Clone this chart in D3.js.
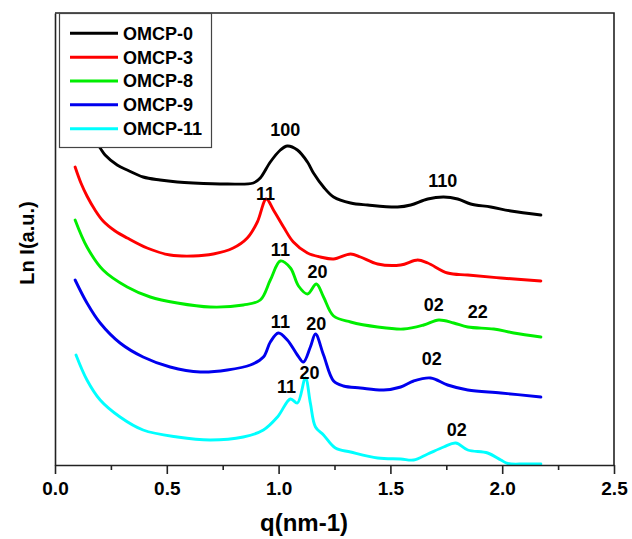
<!DOCTYPE html>
<html>
<head>
<meta charset="utf-8">
<script src="https://cdn.jsdelivr.net/npm/d3@7"></script>
<style>
  html, body { margin: 0; padding: 0; background: #fff; }
  svg { display: block; font-family: "Liberation Sans", Arial, Helvetica, sans-serif; }
</style>
</head>
<body>
<svg id="chart" width="632" height="539"></svg>
<script>
// ---- data (q in nm^-1, Ln I in arbitrary offset units) ----
const seriesNames = ["OMCP-0", "OMCP-3", "OMCP-8", "OMCP-9", "OMCP-11"];
const seriesColors = ["#000000", "#ff0000", "#00ee00", "#0000ee", "#00ffff"];

const omcp0 = [
  [0.090,7.14],[0.143,6.74],[0.202,6.34],[0.224,6.20],[0.278,6.00],[0.323,5.90],[0.394,5.76],[0.470,5.70],
  [0.547,5.66],[0.618,5.64],[0.771,5.62],[0.887,5.64],[0.918,5.74],[0.963,6.06],[1.008,6.30],
  [1.039,6.38],[1.084,6.30],[1.129,6.06],[1.156,5.84],[1.201,5.56],[1.246,5.36],[1.322,5.24],
  [1.398,5.20],[1.532,5.16],[1.591,5.20],[1.667,5.32],[1.738,5.36],[1.801,5.32],[1.859,5.22],
  [1.949,5.16],[2.039,5.08],[2.173,5.00]
];
const omcp3 = [
  [0.090,5.96],[0.116,5.64],[0.143,5.38],[0.179,5.10],[0.215,4.88],[0.269,4.68],[0.323,4.54],[0.412,4.34],[0.515,4.20],[0.618,4.18],
  [0.708,4.22],[0.797,4.34],[0.860,4.54],[0.905,4.86],[0.945,5.32],[0.977,5.10],[1.022,4.76],
  [1.066,4.46],[1.129,4.24],[1.187,4.16],[1.246,4.12],[1.322,4.22],[1.366,4.16],[1.443,4.02],
  [1.546,4.00],[1.622,4.10],[1.667,4.04],[1.756,3.84],[1.846,3.80],[1.994,3.74],[2.173,3.68]
];
const omcp8 = [
  [0.090,4.90],[0.143,4.36],[0.215,3.90],[0.323,3.56],[0.426,3.36],[0.547,3.24],[0.694,3.16],
  [0.842,3.20],[0.918,3.30],[0.963,3.70],[1.008,4.08],[1.053,3.94],[1.089,3.58],[1.129,3.42],
  [1.169,3.62],[1.201,3.36],[1.246,2.98],[1.322,2.86],[1.443,2.76],[1.559,2.72],[1.649,2.80],
  [1.716,2.90],[1.783,2.84],[1.846,2.76],[1.962,2.72],[2.052,2.64],[2.173,2.56]
];
const omcp9 = [
  [0.090,3.70],[0.143,3.24],[0.202,2.84],[0.291,2.44],[0.394,2.16],[0.515,1.96],[0.650,1.86],
  [0.771,1.90],[0.874,2.00],[0.932,2.16],[0.963,2.46],[0.999,2.64],[1.039,2.50],[1.084,2.20],
  [1.111,2.06],[1.142,2.36],[1.165,2.62],[1.201,2.20],[1.246,1.68],[1.290,1.58],[1.366,1.54],
  [1.470,1.50],[1.546,1.56],[1.604,1.68],[1.680,1.74],[1.756,1.60],[1.846,1.50],[1.994,1.44],
  [2.173,1.36]
];
const omcp11 = [
  [0.094,2.20],[0.143,1.70],[0.202,1.30],[0.291,0.96],[0.394,0.70],[0.547,0.56],[0.694,0.50],
  [0.842,0.56],[0.932,0.70],[0.995,0.96],[1.053,1.32],[1.084,1.24],[1.120,1.74],[1.142,1.24],
  [1.165,0.76],[1.201,0.60],[1.254,0.34],[1.322,0.26],[1.443,0.14],[1.546,0.12],[1.604,0.10],
  [1.667,0.22],[1.738,0.36],[1.792,0.44],[1.846,0.30],[1.935,0.24],[1.994,0.10],[2.025,0.03],
  [2.100,0.02],[2.173,0.02]
];
const seriesData = [omcp0, omcp3, omcp8, omcp9, omcp11];

// peak annotations: [text, q, LnI]
const peakLabels = [
  ["100", 1.030, 6.70], ["110", 1.734, 5.68],
  ["11", 0.941, 5.42],
  ["11", 1.008, 4.30], ["20", 1.174, 3.86], ["02", 1.694, 3.20], ["22", 1.891, 3.06],
  ["11", 1.008, 2.86], ["20", 1.169, 2.82], ["02", 1.685, 2.12],
  ["11", 1.035, 1.56], ["20", 1.138, 1.84], ["02", 1.797, 0.70]
];

const xMajorTicks = [0.0, 0.5, 1.0, 1.5, 2.0, 2.5];
const xMinorTicks = [0.25, 0.75, 1.25, 1.75, 2.25];
const xTitle = "q(nm-1)";
const yTitle = "Ln I(a.u.)";

// ---- layout ----
const svg = d3.select("#chart");
const L = 55, R = 614, T = 13, B = 465;
const x = d3.scaleLinear().domain([0, 2.5]).range([L, R]);
const y = d3.scaleLinear().domain([0, 9.04]).range([B, T]);

// frame (top and right)
svg.append("path")
  .attr("d", `M${L},${T}H${R}V${B}`)
  .attr("fill", "none").attr("stroke", "#222").attr("stroke-width", 1.6);

// clip
svg.append("clipPath").attr("id", "clip")
  .append("rect").attr("x", L).attr("y", T).attr("width", R - L).attr("height", B - T + 2);

// curves
const line = d3.line().x(d => x(d[0])).y(d => y(d[1])).curve(d3.curveCatmullRom.alpha(0.5));
const g = svg.append("g").attr("clip-path", "url(#clip)");
seriesData.forEach((s, i) => {
  g.append("path").datum(s)
    .attr("d", line)
    .attr("fill", "none")
    .attr("stroke", seriesColors[i])
    .attr("stroke-width", 2.9)
    .attr("stroke-linejoin", "round")
    .attr("stroke-linecap", "round");
});

// x axis
const xAxis = svg.append("g").attr("transform", `translate(0,${B})`)
  .call(d3.axisBottom(x).tickValues(xMajorTicks).tickSize(9).tickSizeOuter(0)
    .tickFormat(d3.format(".1f")));
xAxis.select(".domain").attr("stroke", "#222").attr("stroke-width", 1.6);
xAxis.selectAll(".tick line").attr("stroke", "#222").attr("stroke-width", 1.6);
xAxis.selectAll(".tick text")
  .attr("y", 17).attr("dy", "0.71em")
  .attr("font-size", 19).attr("font-weight", "bold").attr("fill", "#000")
  .attr("font-family", "'Liberation Sans', Arial, sans-serif");

const xMinor = svg.append("g").attr("transform", `translate(0,${B})`)
  .call(d3.axisBottom(x).tickValues(xMinorTicks).tickSize(5).tickFormat(""));
xMinor.select(".domain").remove();
xMinor.selectAll(".tick line").attr("stroke", "#222").attr("stroke-width", 1.6);

// y axis (no ticks)
const yAxis = svg.append("g").attr("transform", `translate(${L},0)`)
  .call(d3.axisLeft(y).tickValues([]).tickSizeOuter(0));
yAxis.select(".domain").attr("stroke", "#222").attr("stroke-width", 1.6);

// titles
svg.append("text")
  .attr("x", 304).attr("y", 531)
  .attr("text-anchor", "middle")
  .attr("font-size", 24).attr("font-weight", "bold")
  .text(xTitle);
svg.append("text")
  .attr("transform", `translate(34,243) rotate(-90)`)
  .attr("text-anchor", "middle")
  .attr("font-size", 20).attr("font-weight", "bold")
  .text(yTitle);

// peak labels
svg.append("g").selectAll("text").data(peakLabels).join("text")
  .attr("x", d => x(d[1])).attr("y", d => y(d[2]))
  .attr("dy", "0.36em")
  .attr("text-anchor", "middle")
  .attr("font-size", 18).attr("font-weight", "bold")
  .attr("fill", "#000")
  .text(d => d[0]);

// legend
const lg = svg.append("g");
lg.append("rect")
  .attr("x", 59.5).attr("y", 13.5).attr("width", 152).attr("height", 134)
  .attr("fill", "#fff").attr("stroke", "#444").attr("stroke-width", 1.2);
seriesNames.forEach((n, i) => {
  const yy = 33.3 + i * 23.85;
  lg.append("line").attr("x1", 70).attr("x2", 118).attr("y1", yy).attr("y2", yy)
    .attr("stroke", seriesColors[i]).attr("stroke-width", 3);
  lg.append("text").attr("x", 123).attr("y", yy).attr("dy", "0.36em")
    .attr("font-size", 18).attr("font-weight", "bold").text(n);
});
</script>
</body>
</html>
